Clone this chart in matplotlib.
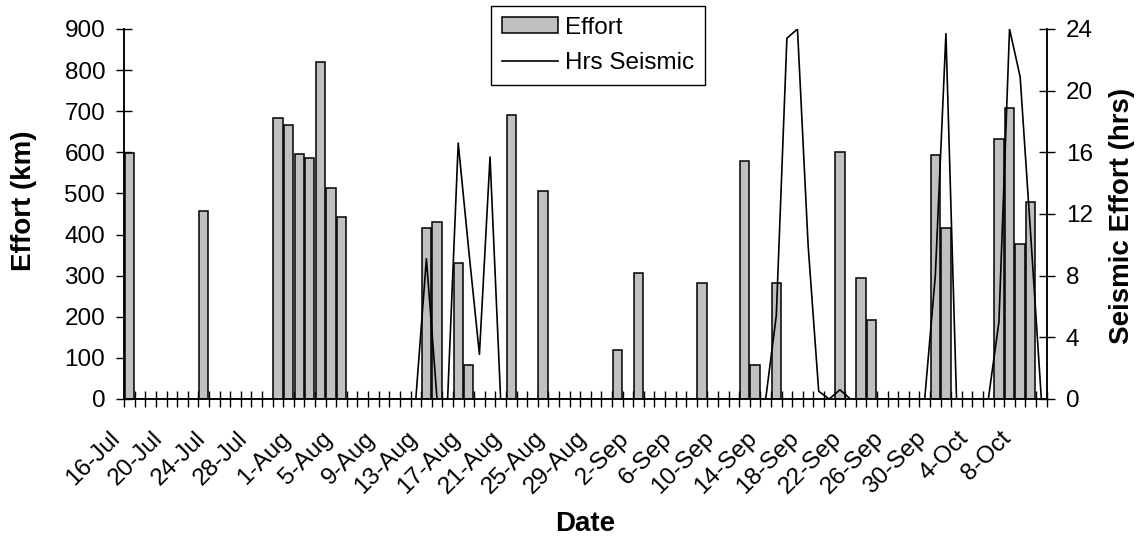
import matplotlib
matplotlib.use("Agg")
import matplotlib.pyplot as plt
import matplotlib.transforms as mtransforms
import numpy as np
import pandas as pd

plt.rcParams["font.family"] = ["Liberation Sans", "DejaVu Sans"]

# daily survey effort (km), one value per day 16-Jul .. 10-Oct
effort_jul = [598, 0, 0, 0, 0, 0, 0, 457, 0, 0, 0, 0, 0, 0, 684, 666]
effort_aug = [597, 585, 820, 513, 442, 0, 0, 0, 0, 0, 0, 0, 415, 431, 0, 332,
              82, 0, 0, 0, 692, 0, 0, 507, 0, 0, 0, 0, 0, 0, 120]
effort_sep = [0, 306, 0, 0, 0, 0, 0, 283, 0, 0, 0, 579, 82, 0, 283,
              0, 0, 0, 0, 0, 601, 0, 295, 192, 0, 0, 0, 0, 0, 594]
effort_oct = [415, 0, 0, 0, 0, 632, 707, 378, 480, 0]

# daily hours of seismic effort
hrs_jul = [0] * 16
hrs_aug = [0, 0, 0, 0, 0, 0, 0, 0, 0, 0, 0, 0, 9.1, 0, 0, 16.6,
           9.6, 2.9, 15.7, 0, 0, 0, 0, 0, 0, 0, 0, 0, 0, 0, 0]
hrs_sep = [0, 0, 0, 0, 0, 0, 0, 0, 0, 0, 0, 0, 0, 0, 5.4,
           23.4, 24, 10, 0.5, 0, 0.6, 0, 0, 0, 0, 0, 0, 0, 0, 8.0]
hrs_oct = [23.7, 0, 0, 0, 0, 5.0, 24, 20.9, 10.6, 0]

dates = pd.date_range("2001-07-16", "2001-10-10", freq="D")
effort = np.array(effort_jul + effort_aug + effort_sep + effort_oct, dtype=float)
hrs = np.array(hrs_jul + hrs_aug + hrs_sep + hrs_oct, dtype=float)
x = np.arange(len(dates))

TICK_FS = 17.5
LABEL_FS = 20


def main():
    fig = plt.figure(figsize=(11.42, 5.37), dpi=100)
    ax = fig.add_axes([0.1088, 0.257, 0.8077, 0.689])
    ax2 = ax.twinx()

    # zero days have no bar
    has = effort > 0
    bars = ax.bar(x[has], effort[has], width=0.88, color="#C0C0C0",
                  edgecolor="black", linewidth=1.1, zorder=2)
    line, = ax2.plot(x, hrs, color="black", linewidth=1.2, zorder=3)

    ax.set_ylim(0, 900)
    ax2.set_ylim(0, 24)
    ax.set_yticks(np.arange(0, 901, 100))
    ax2.set_yticks(np.arange(0, 25, 4))

    # tick marks between days, no tick labels on the axis itself
    ax.set_xticks([])
    ax.set_xticks(np.arange(-0.5, len(x)), minor=True)
    ax.set_xlim(-0.5, len(x) - 0.5)
    ax.tick_params(axis="x", which="minor", direction="inout", length=11.5,
                   width=1, color="black")
    ax.tick_params(axis="y", direction="inout", length=11.5, width=1,
                   pad=8, labelsize=TICK_FS)
    ax2.tick_params(axis="y", direction="inout", length=11.5, width=1,
                    pad=8, labelsize=TICK_FS)

    # rotated date labels every 4th day, Excel style (sit a bit left of day)
    base = mtransforms.blended_transform_factory(ax.transData, ax.transAxes)
    off = mtransforms.ScaledTranslation(-12.5 / 100, -36 / 100,
                                        fig.dpi_scale_trans)
    for xi, d in zip(x[::4], dates[::4]):
        ax.text(xi, 0, f"{d.day}-{d.strftime('%b')}", transform=base + off,
                rotation=45, ha="right", va="center", rotation_mode="anchor",
                fontsize=TICK_FS, clip_on=False)

    for a in (ax, ax2):
        a.spines["top"].set_visible(False)
        for s in ("left", "right", "bottom"):
            a.spines[s].set_linewidth(1.1)
        a.patch.set_visible(False)

    ax.set_xlabel("Date", fontsize=LABEL_FS, fontweight="bold", va="center")
    ax.xaxis.set_label_coords(0.5, -0.338)
    ax.set_ylabel("Effort (km)", fontsize=LABEL_FS, fontweight="bold",
                  va="center")
    ax.yaxis.set_label_coords(-0.109, 0.535)
    ax2.set_ylabel("Seismic Effort (hrs)", fontsize=LABEL_FS,
                   fontweight="bold", va="center", rotation=90)
    ax2.yaxis.set_label_coords(1.0817, 0.495)

    leg = ax2.legend([bars, line], ["Effort", "Hrs Seismic"],
                     loc="upper left", bbox_to_anchor=(0.430, 0.989),
                     bbox_transform=fig.transFigure, fontsize=17.5,
                     fancybox=False, framealpha=1, edgecolor="black",
                     handlelength=2.3, handleheight=0.62, handletextpad=0.3,
                     borderpad=0.45, labelspacing=0.55, borderaxespad=0)
    leg.get_frame().set_linewidth(1.0)

    fig.savefig("out.png", dpi=100)


if __name__ == "__main__":
    main()
